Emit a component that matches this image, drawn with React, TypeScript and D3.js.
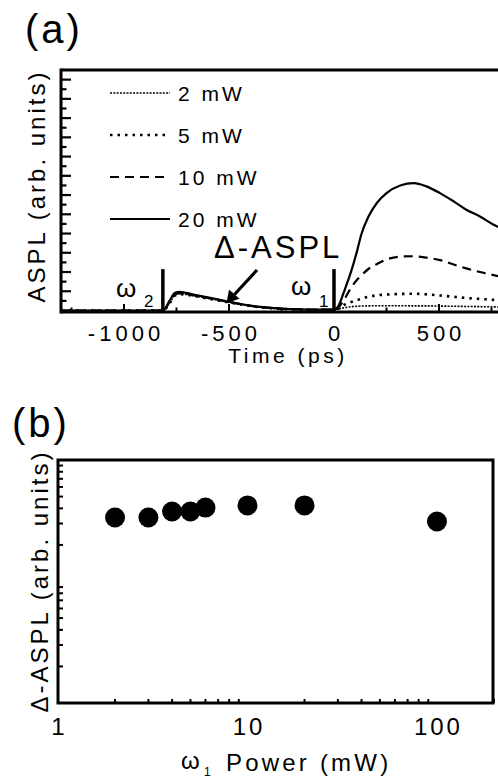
import React from "react";
import * as d3 from "d3";

// ---------- Panel (a) data ----------
const timePs = [-1300, -815, -780, -757, -735, -670, -590, -510, -430, -350, -240, -115, 0, 20, 50, 85, 110, 130, 165, 205, 250, 315, 380, 440, 505, 570, 630, 695, 760, 790];
const aspl2mW = [0, 0, 0.45, 0.8, 0.87, 0.77, 0.61, 0.45, 0.29, 0.17, 0.08, 0.04, 0.04, 0.08, 0.15, 0.2, 0.22, 0.23, 0.24, 0.25, 0.25, 0.25, 0.24, 0.24, 0.23, 0.22, 0.21, 0.2, 0.19, 0.18];
const aspl5mW = [0, 0, 0.42, 0.78, 0.85, 0.76, 0.6, 0.44, 0.29, 0.17, 0.08, 0.04, 0.04, 0.1, 0.3, 0.45, 0.54, 0.61, 0.72, 0.79, 0.83, 0.86, 0.87, 0.84, 0.78, 0.71, 0.65, 0.6, 0.55, 0.52];
const aspl10mW = [0, 0, 0.5, 0.85, 0.9, 0.8, 0.63, 0.46, 0.3, 0.18, 0.09, 0.05, 0.05, 0.15, 0.6, 1.25, 1.6, 1.82, 2.17, 2.42, 2.65, 2.8, 2.82, 2.75, 2.62, 2.39, 2.19, 2.0, 1.84, 1.76];
const aspl20mW = [0, 0, 0.57, 0.92, 0.97, 0.83, 0.66, 0.48, 0.31, 0.19, 0.09, 0.05, 0.05, 0.22, 1.05, 2.15, 3.1, 3.95, 4.9, 5.6, 6.1, 6.5, 6.62, 6.45, 6.1, 5.67, 5.24, 4.89, 4.46, 4.3];
const seriesLabels = ["2 mW", "5 mW", "10 mW", "20 mW"];
const pulseTimes = [-815, 0];
const pulseHeight = 2.15;
const xTicksA = [-1000, -500, 0, 500];
const xMinorA = [-1250, -750, -250, 250, 750];

// ---------- Panel (b) data ----------
const powerMw = [2, 3, 4, 5, 6, 10, 20, 100];
const deltaAspl = [33.6, 33.6, 37.7, 37.7, 40.6, 42.3, 42.3, 31.2];
const xTicksB = [1, 10, 100];

const FONT = "'Liberation Sans', Arial, Helvetica, sans-serif";

export default function App() {
  // panel (a) scales
  const xA = d3.scaleLinear().domain([-1300, 1300]).range([61, 607]);
  const yA = d3.scaleLinear().domain([0, 12.5]).range([310.5, 70]);
  const aTop = 70, aBottom = 312, aLeft = 61;

  const series = [aspl2mW, aspl5mW, aspl10mW, aspl20mW];
  const styles = [
    { dash: "2,1.3", w: 1.6 },
    { dash: "2.5,5", w: 2.6 },
    { dash: "9,6", w: 2.2 },
    { dash: "none", w: 2.2 },
  ];
  const line = d3
    .line<number>()
    .x((_, i) => xA(timePs[i]))
    .y((d) => yA(d))
    .curve(d3.curveMonotoneX);

  const yMinorA = d3.range(1, 25).map((k) => k * 0.5);

  // panel (b) scales
  const xB = d3.scaleLog().domain([1, 200]).range([58, 494]);
  const yB = d3.scaleLog().domain([1, 100]).range([703, 460]);
  const xMinorB: number[] = [];
  [1, 10, 100].forEach((dec) => {
    for (let m = 2; m <= 9; m++) if (dec * m <= 200) xMinorB.push(dec * m);
  });
  const yMinorB: number[] = [];
  [1, 10].forEach((dec) => {
    for (let m = 2; m <= 9; m++) yMinorB.push(dec * m);
  });

  const legendY = [93, 135, 177, 219];

  return (
    <svg
      width={498}
      height={778}
      style={{ position: "absolute", left: 0, top: 0, background: "#fff" }}
      fontFamily={FONT}
    >
      <rect x={0} y={0} width={498} height={778} fill="#fff" />
      <defs>
        <clipPath id="clipA">
          <rect x={aLeft} y={aTop} width={498 - aLeft} height={aBottom - aTop} />
        </clipPath>
      </defs>

      {/* ---------------- Panel (a) ---------------- */}
      <text x={25} y={43} fontSize={40} letterSpacing={3}>(a)</text>

      {/* curves */}
      <g clipPath="url(#clipA)">
        {series.map((s, i) => (
          <path
            key={i}
            d={line(s) || ""}
            fill="none"
            stroke="#000"
            strokeWidth={styles[i].w}
            strokeDasharray={styles[i].dash}
          />
        ))}
      </g>

      {/* pulse bars */}
      {pulseTimes.map((t, i) => (
        <line key={i} x1={xA(t)} x2={xA(t)} y1={aBottom} y2={yA(pulseHeight)} stroke="#000" strokeWidth={3.5} />
      ))}

      {/* frame */}
      <line x1={aLeft} x2={498} y1={aTop} y2={aTop} stroke="#000" strokeWidth={3} />
      <line x1={aLeft} x2={aLeft} y1={aTop - 1.5} y2={aBottom + 1.5} stroke="#000" strokeWidth={3} />
      <line x1={aLeft} x2={498} y1={aBottom} y2={aBottom} stroke="#000" strokeWidth={3} />

      {/* y ticks */}
      {yMinorA.map((v, i) => (
        <line
          key={i}
          x1={aLeft}
          x2={aLeft + (Number.isInteger(v) ? 10 : 5.5)}
          y1={yA(v)}
          y2={yA(v)}
          stroke="#000"
          strokeWidth={2.2}
        />
      ))}
      {/* x ticks */}
      {xTicksA.map((t) => (
        <line key={t} x1={xA(t)} x2={xA(t)} y1={aBottom} y2={aBottom - 8} stroke="#000" strokeWidth={2} />
      ))}
      {xMinorA.map((t) => (
        <line key={t} x1={xA(t)} x2={xA(t)} y1={aBottom} y2={aBottom - 4.5} stroke="#000" strokeWidth={2} />
      ))}
      {xTicksA.map((t) => (
        <text key={t} x={xA(t) + 2} y={341} fontSize={22} letterSpacing={4} textAnchor="middle">
          {t}
        </text>
      ))}
      <text x={288} y={363} fontSize={21} letterSpacing={3.5} textAnchor="middle">Time (ps)</text>
      <text
        transform={`translate(45,186) rotate(-90)`}
        fontSize={24}
        letterSpacing={3}
        textAnchor="middle"
      >
        ASPL (arb. units)
      </text>

      {/* legend */}
      {seriesLabels.map((lab, i) => (
        <g key={lab}>
          <line
            x1={110}
            x2={170}
            y1={legendY[i]}
            y2={legendY[i]}
            stroke="#000"
            strokeWidth={styles[i].w}
            strokeDasharray={styles[i].dash}
          />
          <text x={178} y={legendY[i] + 7.5} fontSize={21} letterSpacing={3}>{lab}</text>
        </g>
      ))}

      {/* annotations */}
      <text x={116} y={297} fontSize={26}>ω</text>
      <text x={144} y={307} fontSize={17}>2</text>
      <text x={291} y={295} fontSize={26}>ω</text>
      <text x={319} y={307} fontSize={17}>1</text>
      <text x={214} y={258} fontSize={31} letterSpacing={3}>Δ-ASPL</text>
      <line x1={257} y1={270} x2={234} y2={295} stroke="#000" strokeWidth={3.2} />
      <path d="M226.5,303 L229,289.5 L239.5,298.8 Z" fill="#000" />

      {/* ---------------- Panel (b) ---------------- */}
      <text x={12} y={437} fontSize={40} letterSpacing={3}>(b)</text>

      <rect x={58} y={460} width={435} height={243} fill="none" stroke="#000" strokeWidth={3} />

      {/* y ticks */}
      {yMinorB.map((v) => (
        <line key={v} x1={58} x2={v === 10 ? 67 : 63} y1={yB(v)} y2={yB(v)} stroke="#000" strokeWidth={v === 10 ? 2.6 : 2} />
      ))}
      {/* x ticks */}
      {xMinorB.map((v) => (
        <line
          key={v}
          x1={xB(v)}
          x2={xB(v)}
          y1={703}
          y2={v === 10 || v === 100 ? 695 : 699}
          stroke="#000"
          strokeWidth={2}
        />
      ))}
      {xTicksB.map((v) => (
        <text key={v} x={xB(v) + 1.5} y={735} fontSize={24} letterSpacing={3} textAnchor="middle">
          {v}
        </text>
      ))}

      {/* points */}
      {powerMw.map((p, i) => (
        <circle key={p} cx={xB(p)} cy={yB(deltaAspl[i])} r={10} fill="#000" />
      ))}

      {/* axis labels */}
      <text x={181} y={769} fontSize={24}>ω</text>
      <text x={204} y={776} fontSize={12}>1</text>
      <text x={226} y={771} fontSize={24} letterSpacing={3.2}>Power (mW)</text>
      <text
        transform={`translate(48,581) rotate(-90)`}
        fontSize={24}
        letterSpacing={3}
        textAnchor="middle"
      >
        Δ-ASPL (arb. units)
      </text>
    </svg>
  );
}
